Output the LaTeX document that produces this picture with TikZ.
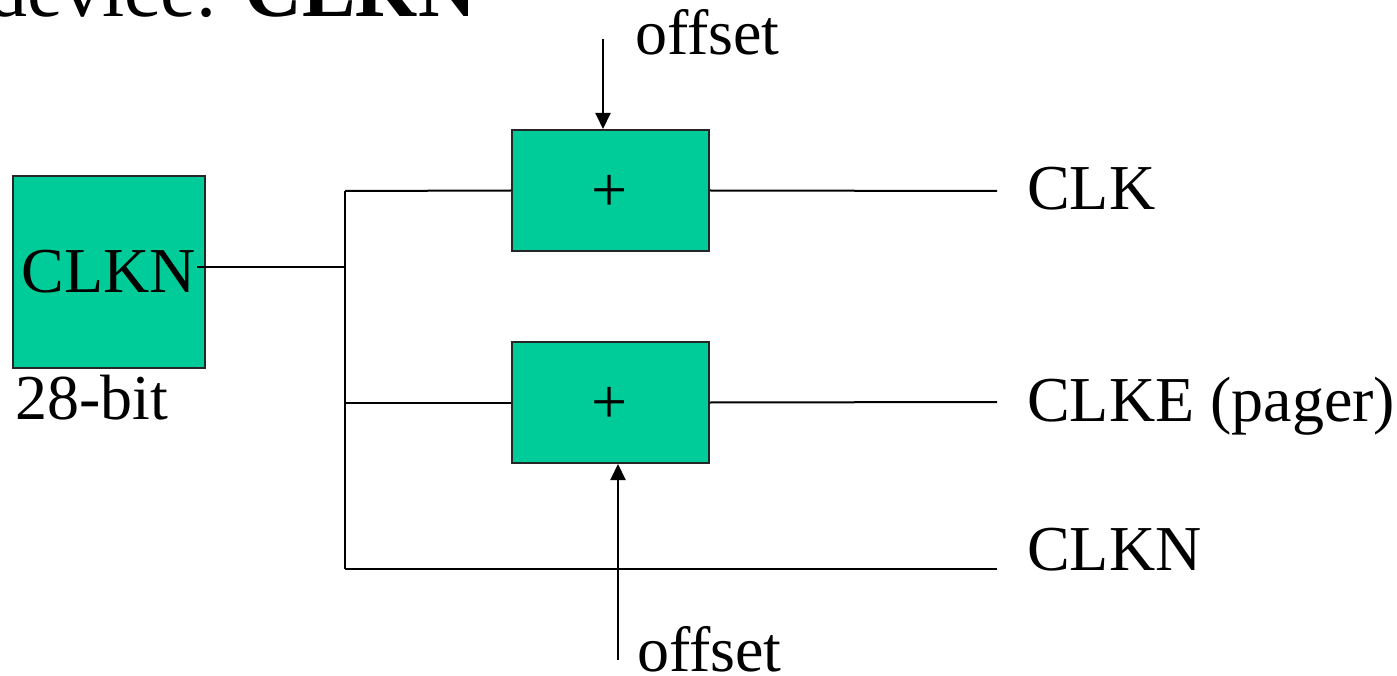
\documentclass[tikz,border=0pt]{standalone}
\usepackage{fontspec}
\setmainfont{Liberation Serif}
\usetikzlibrary{arrows.meta}
\definecolor{boxgreen}{RGB}{0,204,153}
\tikzset{
  unit/.style={draw=black!85, line width=2pt, fill=boxgreen, inner sep=0pt},
  wire/.style={line width=2pt},
  feed/.style={line width=2pt, -{Triangle[length=16pt,width=15pt]}},
  lbl/.style={inner sep=0pt, anchor=base west, font=\fontsize{64}{70}\selectfont},
}
\begin{document}
\begin{tikzpicture}[x=1pt,y=-1pt]
\useasboundingbox (0,0) rectangle (1397,676);

% heading (partly above the page edge)
\node[inner sep=0pt, anchor=base east, font=\fontsize{80}{90}\selectfont] (title) at (476,17) {device: \textbf{CLKN}};

% counter and the two adders
\node[unit, minimum width=192pt, minimum height=192pt, font=\fontsize{64}{70}\selectfont] (clkn) at (109,272) {CLKN};
\node[lbl] (width) at (15,419) {28-bit};
\node[unit, minimum width=197pt, minimum height=121pt] (add1) at (610.5,190.5) {};
\node[unit, minimum width=197pt, minimum height=121pt] (add2) at (610.5,402.5) {};
\node[inner sep=0pt, font=\fontsize{64}{70}\selectfont] (plus1) at (610,193) {+};
\node[inner sep=0pt, font=\fontsize{64}{70}\selectfont] (plus2) at (610,405) {+};

% output labels
\node[lbl] (clk) at (1027,210) {CLK};
\node[lbl] (clke) at (1027,421) {CLKE (pager)};
\node[lbl] (clkno) at (1027,570) {CLKN};
\node[lbl] (off1) at (635,55) {offset};
\node[lbl] (off2) at (637,671) {offset};

% wiring points
\coordinate (src) at (197,267);
\coordinate (j) at (345,267);
\coordinate (jt) at (345,191);
\coordinate (jb) at (345,569);
\coordinate (endK) at (997,191);
\coordinate (endE) at (997,402);
\coordinate (endN) at (997,569);
\coordinate (o1) at (603,39);
\coordinate (o2) at (618,660);

% distribution bus
\draw[wire] (src) -- (j);
\draw[wire] (jt) -- (jb);
\draw[wire] (jt) -- (add1.west);
\draw[wire] (j |- add2.west) -- (add2.west);
\draw[wire] (jb) -- (endN);
\draw[wire] (add1.east) -- (endK);
\draw[wire] (add2.east) -- (endE);

% offset inputs
\draw[feed] (o1) -- (o1 |- add1.north);
\draw[feed] (o2) -- (o2 |- add2.south);
\end{tikzpicture}
\end{document}
